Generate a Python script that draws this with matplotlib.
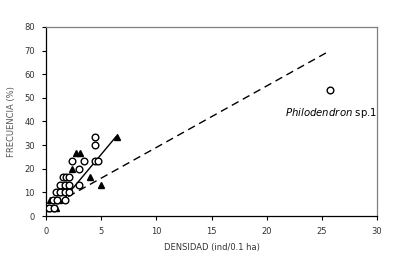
import matplotlib
matplotlib.use("Agg")
import matplotlib.pyplot as plt

# open circles: density, frequency
circ_x = [0.3, 0.7, 0.6, 1.0, 1.7, 0.9, 1.3, 1.7, 2.1, 1.3, 1.7, 2.1, 3.0,
          1.5, 1.8, 2.1, 3.0, 2.4, 3.4, 4.4, 4.7, 4.4, 4.4, 25.7]
circ_y = [3.3, 3.3, 6.7, 6.7, 6.7, 10, 10, 10, 10, 13.3, 13.3, 13.3, 13.3,
          16.7, 16.7, 16.7, 20, 23.3, 23.3, 23.3, 23.3, 30, 33.3, 53.3]
# filled triangles
tri_x = [0.1, 0.5, 0.9, 0.4, 0.8, 1.2, 1.1, 1.5, 1.5, 1.9, 5.0, 4.0, 2.4, 2.7, 3.1, 6.4]
tri_y = [3.3, 3.3, 3.3, 6.7, 6.7, 6.7, 10, 10, 13.3, 13.3, 13.3, 16.7, 20, 26.7, 26.7, 33.3]
# fitted lines
solid_x = [1.8, 6.35]
solid_y = [8.2, 33.6]
dash_x = [2.0, 25.75]
dash_y = [8.2, 70.0]

x_ticks = [0, 5, 10, 15, 20, 25, 30]
y_ticks = [0, 10, 20, 30, 40, 50, 60, 70, 80]

fig = plt.figure(figsize=(4.04, 2.59), dpi=100)
ax = fig.add_axes([46/404, 1-216/259, (377-46)/404, (216-27)/259])

ax.plot(dash_x, dash_y, color='black', lw=1.0, ls=(0, (5.5, 3.5)), zorder=2)
ax.plot(solid_x, solid_y, color='black', lw=1.0, zorder=2)
ax.plot(tri_x, tri_y, ls='none', marker='^', ms=4.2, color='black', zorder=3)
ax.plot(circ_x, circ_y, ls='none', marker='o', ms=4.8, mfc='white', mec='black',
        mew=1.0, zorder=4)

ax.text(21.7, 43.6, r"$\mathit{Philodendron}$ sp.1", fontsize=7.3, va='center',
        ha='left', color='black')

ax.set_xlim(0, 30)
ax.set_ylim(0, 80)
ax.set_xticks(x_ticks)
ax.set_yticks(y_ticks)
ax.tick_params(direction='out', length=3, width=0.8, labelsize=6,
               labelcolor='#333333', pad=5)
for s in ['left', 'bottom']:
    ax.spines[s].set_color('black')
    ax.spines[s].set_linewidth(0.9)
for s in ['top', 'right']:
    ax.spines[s].set_color('#808080')
    ax.spines[s].set_linewidth(0.9)

ax.set_xlabel('DENSIDAD (ind/0.1 ha)', fontsize=6, color='#333333', labelpad=5)
ax.set_ylabel('FRECUENCIA (%)', fontsize=6, color='#555555', labelpad=6)

fig.savefig('out.png', dpi=100)
